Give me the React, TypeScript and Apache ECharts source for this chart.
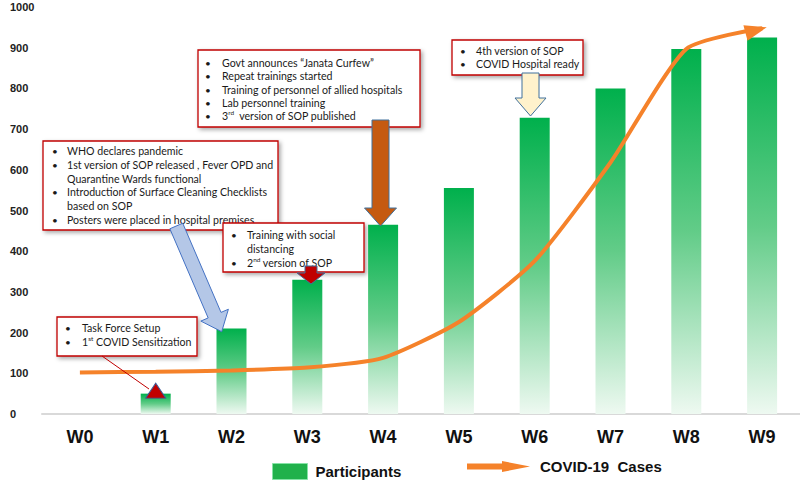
import React, { useEffect, useRef } from 'react';
import * as echarts from 'echarts';

const weeks = ['W0', 'W1', 'W2', 'W3', 'W4', 'W5', 'W6', 'W7', 'W8', 'W9'];
const participants = [null, 50, 210, 330, 465, 555, 728, 800, 897, 925];
const covidCases = [102, 104, 107, 114, 138, 226, 376, 618, 897, 948];

const notesWho = [
  ['WHO declares pandemic'],
  ['1st version of SOP released , Fever OPD and', 'Quarantine Wards functional'],
  ['Introduction of Surface Cleaning Checklists', 'based on SOP'],
  ['Posters were placed in hospital premises'],
];
const notesGovt = [
  ['Govt announces \u201cJanata Curfew\u201d'],
  ['Repeat trainings started'],
  ['Training of personnel of allied hospitals'],
  ['Lab personnel training'],
  ['3^rd  version of SOP published'],
];
const notesHospital = [['4th version of SOP'], ['COVID Hospital ready']];
const notesSocial = [['Training with social', 'distancing'], ['2^nd version of SOP']];
const notesTaskForce = [['Task Force Setup'], ['1^st COVID Sensitization']];

const NOTE_FONT = 'Lato';
const TEXT_COLOR = '#1a1a1a';

function toRich(line: string): string {
  const m = line.match(/^(.*?)(\d)\^([a-z]+)(.*)$/);
  if (!m) return `{t|${line}}`;
  return `{t|${m[1]}${m[2]}}{s|${m[3]}}{t|${m[4]}}`;
}

const richStyles = {
  t: { fontSize: 10.6, fontFamily: NOTE_FONT, fill: TEXT_COLOR, lineHeight: 14 },
  s: { fontSize: 6.5, fontFamily: NOTE_FONT, fill: TEXT_COLOR, lineHeight: 8, verticalAlign: 'top' },
};

function noteBox(notes: string[][], x: number, y: number, w: number, h: number,
  bulletX: number, textX: number, firstY: number, step: number) {
  const children: any[] = [{
    type: 'rect',
    shape: { x, y, width: w, height: h },
    style: {
      fill: '#fff', stroke: '#c00000', lineWidth: 1.3,
      shadowBlur: 4, shadowOffsetX: 2, shadowOffsetY: 2, shadowColor: 'rgba(0,0,0,0.35)',
    },
  }];
  let i = 0;
  notes.forEach((item) => {
    item.forEach((line, j) => {
      const ly = firstY + i * step;
      if (j === 0) {
        children.push({
          type: 'text', x: bulletX, y: ly,
          style: { text: '\u2022', fontSize: 10, fontFamily: NOTE_FONT, fill: TEXT_COLOR, verticalAlign: 'middle' },
        });
      }
      children.push({
        type: 'text', x: textX, y: ly,
        style: { text: toRich(line), rich: richStyles, verticalAlign: 'middle' },
      });
      i += 1;
    });
  });
  return { type: 'group', z: 100, children };
}

function downArrow(cx: number, top: number, shaftW: number, headW: number, headTop: number, tip: number,
  fill: string, stroke: string) {
  const s = shaftW / 2;
  const hw = headW / 2;
  return {
    type: 'polygon', z: 110,
    shape: {
      points: [
        [cx - s, top], [cx + s, top], [cx + s, headTop], [cx + hw, headTop],
        [cx, tip], [cx - hw, headTop], [cx - s, headTop],
      ],
    },
    style: { fill, stroke, lineWidth: 1 },
  };
}

function slantArrow(tail: number[], tip: number[], shaftHalf: number, headHalf: number, headLen: number,
  fill: string, stroke: string) {
  const dx = tip[0] - tail[0];
  const dy = tip[1] - tail[1];
  const len = Math.hypot(dx, dy);
  const ux = dx / len, uy = dy / len;
  const nx = uy, ny = -ux;
  const hx = tip[0] - headLen * ux, hy = tip[1] - headLen * uy;
  return {
    type: 'polygon', z: 110,
    shape: {
      points: [
        [tail[0] - shaftHalf * nx, tail[1] - shaftHalf * ny],
        [hx - shaftHalf * nx, hy - shaftHalf * ny],
        [hx - headHalf * nx, hy - headHalf * ny],
        [tip[0], tip[1]],
        [hx + headHalf * nx, hy + headHalf * ny],
        [hx + shaftHalf * nx, hy + shaftHalf * ny],
        [tail[0] + shaftHalf * nx, tail[1] + shaftHalf * ny],
      ],
    },
    style: { fill, stroke, lineWidth: 1 },
  };
}

export default function App() {
  const ref = useRef<HTMLDivElement>(null);

  useEffect(() => {
    if (!ref.current) return;
    const chart = echarts.init(ref.current, null, { renderer: 'svg' });
    const orange = '#f5822a';
    const barGradient = new echarts.graphic.LinearGradient(0, 0, 0, 1, [
      { offset: 0, color: '#00b04c' },
      { offset: 0.5, color: '#62cc88' },
      { offset: 1, color: '#eef9f1' },
    ]);

    const option: any = {
      animation: false,
      backgroundColor: '#ffffff',
      grid: { left: 42, top: 7, width: 765, height: 407 },
      legend: [
        {
          left: 272, top: 463, padding: 0, itemWidth: 35, itemHeight: 16,
          data: [{ name: 'Participants', icon: 'rect', itemStyle: { color: '#21b14b', borderColor: '#86e3a6', borderWidth: 1 } }],
          textStyle: { fontFamily: 'Liberation Sans, Arial', fontWeight: 'bold', fontSize: 15, color: '#111', padding: [0, 0, 0, 3] },
        },
        {
          left: 467, top: 459, padding: 0, itemWidth: 63, itemHeight: 11,
          data: [{
            name: 'COVID-19  Cases',
            icon: 'path://M0,2.5 L35,2.5 L35,0 L63,5.5 L35,11 L35,8.5 L0,8.5 Z',
            itemStyle: { color: orange, borderWidth: 0 },
          }],
          textStyle: { fontFamily: 'Liberation Sans, Arial', fontWeight: 'bold', fontSize: 15, color: '#111', padding: [0, 0, 0, 5] },
        },
      ],
      xAxis: {
        type: 'category',
        data: weeks,
        axisLine: { lineStyle: { color: '#d9d9d9', width: 2 } },
        axisTick: { show: false },
        axisLabel: { fontFamily: 'Liberation Sans, Arial', fontWeight: 'bold', fontSize: 18, color: '#111', margin: 14 },
      },
      yAxis: {
        type: 'value', min: 0, max: 1000, interval: 100,
        axisLine: { show: false }, axisTick: { show: false }, splitLine: { show: false },
        axisLabel: {
          fontFamily: 'Liberation Sans, Arial', fontWeight: 'bold', fontSize: 11, color: '#222', align: 'left', margin: 32,
          formatter: (v: number) => String(v),
        },
      },
      series: [
        {
          type: 'bar', name: 'Participants', data: participants, barWidth: 30,
          itemStyle: { color: barGradient },
          markPoint: {
            data: [{
              coord: ['W1', participants[1]], symbol: 'triangle', symbolSize: [20, 15], symbolOffset: [0, -3],
              itemStyle: { color: '#c00000', borderColor: '#3a5a9a', borderWidth: 1 },
              label: { show: false },
            }],
          },
        },
        {
          type: 'line', name: 'COVID-19  Cases',
          data: covidCases.map((v, i) => (i === covidCases.length - 1
            ? { value: v, symbol: 'triangle', symbolSize: [16, 22], symbolRotate: -75, symbolOffset: [-6, 2], itemStyle: { color: orange } }
            : v)),
          symbol: 'none', showSymbol: true, smooth: 0.2,
          lineStyle: { color: orange, width: 4 },
          itemStyle: { color: orange },
          z: 3,
        },
      ],
      graphic: [
        noteBox(notesWho, 43, 141, 235, 89, 52, 67, 151, 13.8),
        noteBox(notesGovt, 198, 50, 222, 77, 205, 222, 63, 13.3),
        noteBox(notesHospital, 452, 40, 131, 35, 460, 476, 51, 13),
        noteBox(notesSocial, 223, 223, 141, 49, 231, 247, 235, 14),
        noteBox(notesTaskForce, 57, 317, 140, 39, 65, 82, 328, 14),
        { type: 'line', z: 105, shape: { x1: 102, y1: 356, x2: 149, y2: 389 }, style: { stroke: '#c00000', lineWidth: 1 } },
        slantArrow([176.3, 226], [221.7, 331.7], 7, 15, 18, '#b4c7e7', '#4472c4'),
        downArrow(380.5, 120, 17, 32, 208, 226, '#c55a11', '#41719c'),
        downArrow(530.5, 73, 17, 31, 98, 116, '#fff2cc', '#41719c'),
        downArrow(311, 266, 12, 28, 273, 284, '#c00000', '#41719c'),
      ],
    };
    chart.setOption(option);
    return () => chart.dispose();
  }, []);

  return <div ref={ref} style={{ position: 'absolute', left: 0, top: 0, width: 800, height: 484 }} />;
}
